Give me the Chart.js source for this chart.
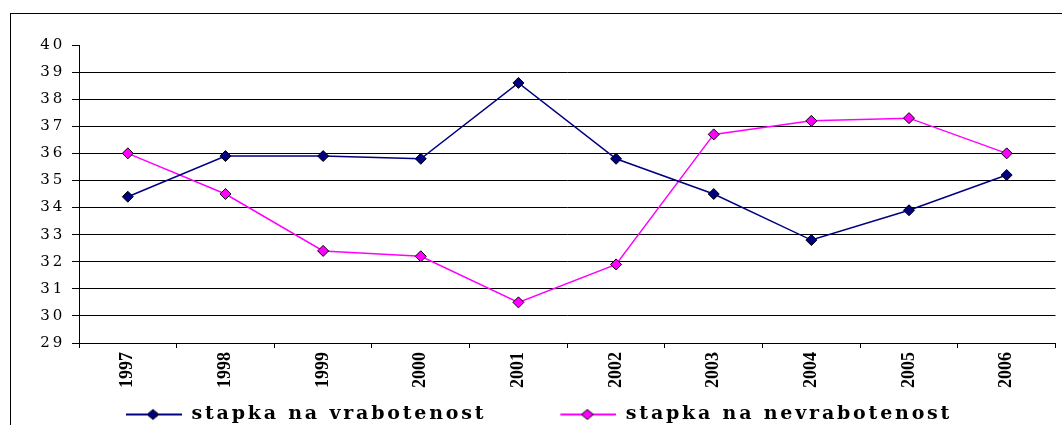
<!DOCTYPE html>
<html>
<head>
<meta charset="utf-8">
<script src="https://cdn.jsdelivr.net/npm/chart.js@4.4.0/dist/chart.umd.min.js"></script>
<style>
  html, body { margin: 0; padding: 0; background: #fff; overflow: hidden; }
  #wrap { position: relative; width: 1062px; height: 440px; }
  #grafik { position: absolute; left: 0; top: 0; }
  #okvir { position: absolute; left: 10px; top: 13px; width: 1100px; height: 500px;
           border-left: 1px solid #000; border-top: 1px solid #000; pointer-events: none; }
</style>
</head>
<body>
<div id="wrap">
  <canvas id="grafik" width="1062" height="440"></canvas>
  <div id="okvir"></div>
</div>
<script>
// podatoci procitani od slikata
const godini = ['1997', '1998', '1999', '2000', '2001', '2002', '2003', '2004', '2005', '2006'];
const vrabotenost = [34.4, 35.9, 35.9, 35.8, 38.6, 35.8, 34.5, 32.8, 33.9, 35.2];
const nevrabotenost = [36.0, 34.5, 32.4, 32.2, 30.5, 31.9, 36.7, 37.2, 37.3, 36.0];
const yMin = 29;
const yMax = 40;
const iminja = ['stapka na vrabotenost', 'stapka na nevrabotenost'];
const boi = ['#000080', '#FF00FF'];

const sirinaIkona = 120;

// ikona za legendata: linija so romb
function napraviIkona(boja) {
    const c = document.createElement('canvas');
    c.width = sirinaIkona;
    c.height = 16;
    const g = c.getContext('2d');
    const x0 = sirinaIkona - 56;
    g.strokeStyle = boja;
    g.lineWidth = 2;
    g.beginPath();
    g.moveTo(x0, 8);
    g.lineTo(sirinaIkona, 8);
    g.stroke();
    const cx = x0 + 27;
    g.beginPath();
    g.moveTo(cx - 6, 8);
    g.lineTo(cx, 3);
    g.lineTo(cx + 6, 8);
    g.lineTo(cx, 13);
    g.closePath();
    g.fillStyle = boja;
    g.fill();
    g.strokeStyle = '#000';
    g.lineWidth = 1;
    g.stroke();
    return c;
}
const ikoni = boi.map(napraviIkona);

// razmak megju bukvite (legenda i y oska), legendata malku podesena levo
const razmakPlugin = {
    id: 'razmak',
    beforeLayout(chart) { chart.ctx.letterSpacing = '2.8px'; },
    afterLayout(chart) { if (chart.legend) chart.legend.left = 52; },
    beforeDraw(chart) { chart.ctx.letterSpacing = '2.8px'; },
    beforeDatasetsDraw(chart) { chart.ctx.letterSpacing = '0px'; }
};

const ctx = document.getElementById('grafik').getContext('2d');
new Chart(ctx, {
    type: 'line',
    data: {
        labels: godini,
        datasets: [{
            label: iminja[0],
            data: vrabotenost,
            borderColor: boi[0],
            backgroundColor: boi[0],
            borderWidth: 1.5,
            pointStyle: 'rectRot',
            pointRadius: 5.5,
            pointBorderColor: '#000',
            pointBackgroundColor: boi[0],
            pointBorderWidth: 1,
            tension: 0
        }, {
            label: iminja[1],
            data: nevrabotenost,
            borderColor: boi[1],
            backgroundColor: boi[1],
            borderWidth: 1.5,
            pointStyle: 'rectRot',
            pointRadius: 5.5,
            pointBorderColor: '#000',
            pointBackgroundColor: boi[1],
            pointBorderWidth: 1,
            tension: 0
        }]
    },
    options: {
        responsive: false,
        devicePixelRatio: 1,
        animation: false,
        layout: { padding: { left: 11, right: 4, top: 45, bottom: 6 } },
        plugins: {
            tooltip: { enabled: false },
            legend: {
                position: 'bottom',
                align: 'start',
                labels: {
                    usePointStyle: true,
                    pointStyleWidth: sirinaIkona,
                    padding: 10,
                    color: '#000',
                    font: { family: "'DejaVu Serif'", size: 19, weight: 'bold' },
                    generateLabels: chart => chart.data.datasets.map((ds, i) => ({
                        text: ds.label,
                        pointStyle: ikoni[i],
                        fillStyle: ds.backgroundColor,
                        strokeStyle: ds.borderColor,
                        lineWidth: 0,
                        fontColor: '#000',
                        hidden: false,
                        datasetIndex: i
                    }))
                }
            }
        },
        scales: {
            x: {
                offset: true,
                afterFit: s => { s.height = 52; },
                grid: { offset: true, drawOnChartArea: false, drawTicks: true, tickLength: 5, color: '#000' },
                border: { display: true, color: '#000', width: 1 },
                ticks: {
                    z: 1,
                    minRotation: 90,
                    maxRotation: 90,
                    padding: 4,
                    color: '#000',
                    font: { family: "'Liberation Serif'", size: 18, weight: 'bold' }
                }
            },
            y: {
                min: yMin,
                max: yMax,
                afterFit: s => { s.width = 68; },
                grid: {
                    color: c => (c.tick && c.tick.value === yMax) ? 'rgba(0,0,0,0)' : '#000',
                    tickColor: '#000',
                    tickLength: 7,
                    lineWidth: 1
                },
                border: { display: true, color: '#000', width: 1 },
                ticks: {
                    stepSize: 1,
                    padding: 7,
                    color: '#000',
                    font: { family: "'DejaVu Serif'", size: 15 }
                }
            }
        }
    },
    plugins: [razmakPlugin]
});
</script>
</body>
</html>
